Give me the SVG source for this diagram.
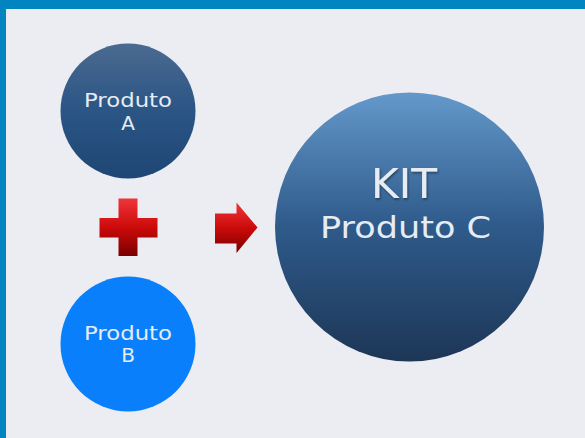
<svg xmlns="http://www.w3.org/2000/svg" width="585" height="438" viewBox="0 0 585 438">
  <defs>
    <linearGradient id="gA" x1="0" y1="0" x2="0" y2="1">
      <stop offset="0" stop-color="#4B6A90"/>
      <stop offset="0.5" stop-color="#2A5585"/>
      <stop offset="1" stop-color="#1F4674"/>
    </linearGradient>
    <linearGradient id="gC" x1="0" y1="0" x2="0" y2="1">
      <stop offset="0" stop-color="#6498CB"/>
      <stop offset="0.5" stop-color="#2E5A8A"/>
      <stop offset="1" stop-color="#1D3656"/>
    </linearGradient>
    <linearGradient id="gRed" x1="0" y1="0" x2="0" y2="1">
      <stop offset="0" stop-color="#F0353A"/>
      <stop offset="0.5" stop-color="#CC0A0A"/>
      <stop offset="1" stop-color="#7A0000"/>
    </linearGradient>
    <filter id="sh" x="-10%" y="-10%" width="130%" height="130%">
      <feDropShadow dx="1" dy="1.5" stdDeviation="1" flood-color="#000000" flood-opacity="0.45"/>
    </filter>
  </defs>
  <style>
    .lbl { font-family: "DejaVu Sans", "Liberation Sans", sans-serif; fill: #E6ECF4; text-anchor: middle; }
    .sm { font-size: 20px; }
  </style>
  <rect x="0" y="0" width="585" height="438" fill="#ECEDF2"/>
  <rect x="0" y="0" width="585" height="9" fill="#0085C0"/>
  <rect x="0" y="0" width="6" height="438" fill="#0085C0"/>

  <g id="nodeA">
    <circle cx="128" cy="111" r="67.5" fill="url(#gA)"/>
    <text class="lbl sm" x="128" y="107" textLength="88" lengthAdjust="spacingAndGlyphs">Produto</text>
    <text class="lbl sm" x="128" y="129.5">A</text>
  </g>

  <g id="nodeB">
    <circle cx="128" cy="344" r="67.5" fill="#0A7FFB"/>
    <text class="lbl sm" x="128" y="340" textLength="88" lengthAdjust="spacingAndGlyphs">Produto</text>
    <text class="lbl sm" x="128" y="362">B</text>
  </g>

  <g id="nodeC">
    <circle cx="409.5" cy="227" r="134.5" fill="url(#gC)"/>
    <text class="lbl" x="404" y="197.5" font-size="40" textLength="66" lengthAdjust="spacingAndGlyphs" fill="#FFFFFF" filter="url(#sh)">KIT</text>
    <text class="lbl" x="405.5" y="237.5" font-size="30" textLength="171" lengthAdjust="spacingAndGlyphs">Produto C</text>
  </g>

  <g id="connectors">
    <path d="M118.5 198.5 H137.5 V218 H157.5 V237.5 H137.5 V256 H118.5 V237.5 H99.5 V218 H118.5 Z" fill="url(#gRed)"/>
    <path d="M215 213.5 H236.5 V202.5 L257.5 227.5 L236.5 253 V243.5 H215 Z" fill="url(#gRed)"/>
  </g>
</svg>
